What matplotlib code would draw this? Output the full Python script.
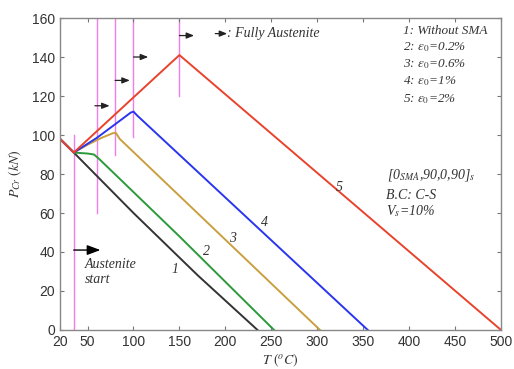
import matplotlib
matplotlib.use('Agg')
import matplotlib.pyplot as plt

# ---- data ----
t1 = [20, 35, 100, 170, 235]
p1 = [98, 91, 60, 28, 0]
t2 = [20, 35, 50, 57, 62, 150, 253]
p2 = [98, 91, 90.5, 90, 88, 48, 0]
t3 = [20, 35, 50, 65, 78, 81, 85, 303]
p3 = [98, 91, 95, 98.5, 101, 101, 98, 0]
t4 = [20, 35, 60, 80, 97, 100, 104, 355]
p4 = [98, 91, 98.5, 105.5, 111.5, 112, 110, 0]
t5 = [20, 35, 100, 150, 500]
p5 = [98, 91, 119.3, 141, 0]

# austenite start / finish markers (T, y from, y to)
vlines_t = [35, 60, 80, 100, 150]
vlines_lo = [0, 60, 90, 99, 120]
vlines_hi = [100, 160, 160, 160, 160]
arrows_t = [58, 80, 100, 150]
arrows_y = [115, 128, 140, 151]

xticks = [20, 50, 100, 150, 200, 250, 300, 350, 400, 450, 500]
yticks = [0, 20, 40, 60, 80, 100, 120, 140, 160]

legend_lines = ['1: Without SMA', r'2: $\varepsilon_0$=0.2%', r'3: $\varepsilon_0$=0.6%',
                r'4: $\varepsilon_0$=1%', r'5: $\varepsilon_0$=2%']
legend_y = [153.2, 145.3, 136.5, 127.5, 118.5]

plt.rcParams['mathtext.fontset'] = 'stix'
plt.rcParams['font.family'] = 'Liberation Sans'

fig = plt.figure(figsize=(5.14, 3.69), dpi=100)
ax = fig.add_axes([0.1167, 0.1057, 0.858, 0.8455])

pink = '#f07ee8'
for t, lo, hi in zip(vlines_t, vlines_lo, vlines_hi):
    ax.plot([t, t], [lo, hi], color=pink, lw=1.0, zorder=1)

ax.plot(t1, p1, color='#333333', lw=1.4)
ax.plot(t2, p2, color='#2a9a3a', lw=1.4)
ax.plot(t3, p3, color='#c9a040', lw=1.4)
ax.plot(t4, p4, color='#2a35ee', lw=1.4)
ax.plot(t5, p5, color='#e8432c', lw=1.4)

small_arrow = dict(arrowstyle='-|>,head_length=0.45,head_width=0.18', color='#222222',
                   lw=0.9, shrinkA=0, shrinkB=0)
for t, y in zip(arrows_t, arrows_y):
    ax.annotate('', xy=(t + 16, y), xytext=(t, y), arrowprops=small_arrow)

# "fully austenite" key
ax.annotate('', xy=(202, 152), xytext=(189, 152), arrowprops=small_arrow)
serif = dict(family='Liberation Serif', style='italic', color='#333333')
ax.text(202, 152, ': Fully Austenite', fontsize=10, va='center', **serif)

# austenite start
ax.annotate('', xy=(64, 41), xytext=(35, 41),
            arrowprops=dict(arrowstyle='-|>,head_length=0.8,head_width=0.3', color='black',
                            lw=1.0, shrinkA=0, shrinkB=0))
ax.text(47, 29.5, 'Austenite\nstart', fontsize=10, va='center', linespacing=1.2, **serif)

# curve numbers
for lab, tx, ty in zip(['1', '2', '3', '4', '5'], [145, 180, 208, 243, 324], [31, 40, 47, 55, 73]):
    ax.text(tx, ty, lab, fontsize=10, ha='center', va='center', **serif)

for txt, y in zip(legend_lines, legend_y):
    ax.text(393, y, txt, fontsize=9.5, va='center', **serif)

ax.text(376, 79.5, r'[0$_{SMA}$,90,0,90]$_s$', fontsize=10, va='center', **serif)
ax.text(375, 69, 'B.C: C-S', fontsize=10, va='center', **serif)
ax.text(375, 61, r'V$_s$=10%', fontsize=10, va='center', **serif)

ax.set_xlim(20, 500)
ax.set_ylim(0, 160)
ax.set_xticks(xticks)
ax.set_yticks(yticks)
ax.tick_params(direction='in', top=True, right=True, length=3, width=0.8,
               color='#777777', labelsize=10, labelcolor='#333333')
for s in ax.spines.values():
    s.set_color('#888888')
    s.set_linewidth(1.0)

ax.set_xlabel(r'$T\ (^oC)$', fontsize=10, color='#333333', labelpad=2)
ax.set_ylabel(r'$P_{Cr}\ (kN)$', fontsize=10, color='#333333', labelpad=6)

fig.savefig('out.png', dpi=100)
